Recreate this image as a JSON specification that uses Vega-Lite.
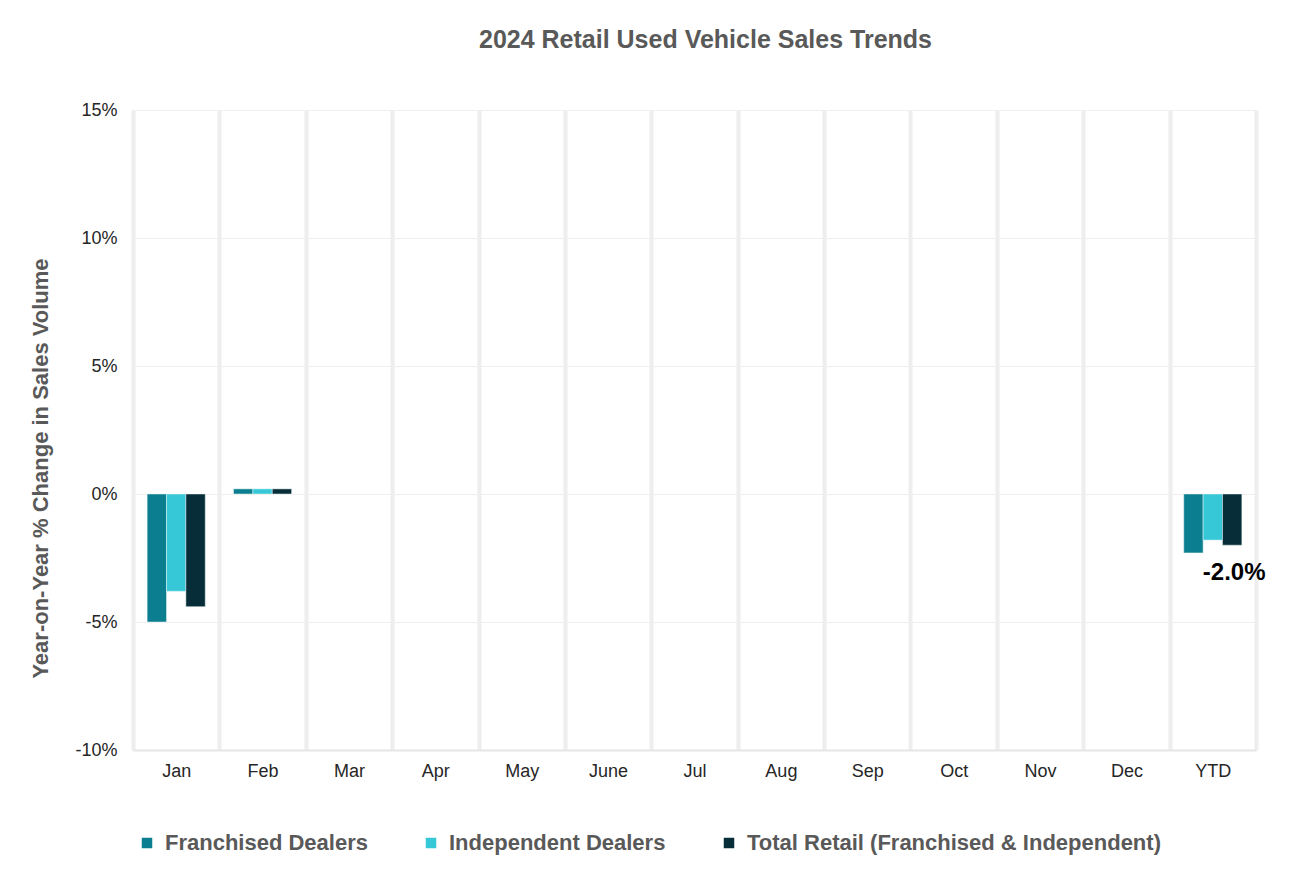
{
  "$schema": "https://vega.github.io/schema/vega-lite/v6.json",
  "autosize": "none",
  "width": 1123,
  "height": 640,
  "padding": {"left": 133, "top": 110, "right": 35, "bottom": 121},
  "background": "white",
  "title": {
    "text": "2024 Retail Used Vehicle Sales Trends",
    "font": "Liberation Sans",
    "fontSize": 25,
    "fontWeight": "bold",
    "color": "#595959",
    "anchor": "middle",
    "dx": 11,
    "offset": 48
  },
  "config": {
    "font": "Liberation Sans",
    "view": {"stroke": null}
  },
  "data": {
    "values": [
      {"month": "Jan", "series": "Franchised Dealers", "value": -5.0},
      {"month": "Jan", "series": "Independent Dealers", "value": -3.8},
      {"month": "Jan", "series": "Total Retail (Franchised & Independent)", "value": -4.4},
      {"month": "Feb", "series": "Franchised Dealers", "value": 0.2},
      {"month": "Feb", "series": "Independent Dealers", "value": 0.2},
      {"month": "Feb", "series": "Total Retail (Franchised & Independent)", "value": 0.2},
      {"month": "YTD", "series": "Franchised Dealers", "value": -2.3},
      {"month": "YTD", "series": "Independent Dealers", "value": -1.8},
      {"month": "YTD", "series": "Total Retail (Franchised & Independent)", "value": -2.0, "label": "-2.0%"}
    ]
  },
  "encoding": {
    "x": {
      "field": "month",
      "type": "nominal",
      "sort": ["Jan", "Feb", "Mar", "Apr", "May", "June", "Jul", "Aug", "Sep", "Oct", "Nov", "Dec", "YTD"],
      "scale": {
        "domain": ["Jan", "Feb", "Mar", "Apr", "May", "June", "Jul", "Aug", "Sep", "Oct", "Nov", "Dec", "YTD"],
        "paddingInner": 0,
        "paddingOuter": 0
      },
      "axis": {
        "title": null,
        "labelAngle": 0,
        "labelFont": "Liberation Sans",
        "labelFontSize": 18,
        "labelColor": "#262626",
        "labelPadding": 12,
        "ticks": false,
        "domain": true,
        "domainColor": "#E6E6E6",
        "domainWidth": 2,
        "grid": true,
        "tickBand": "extent",
        "gridColor": "#EEEEEE",
        "gridWidth": 4
      }
    },
    "xOffset": {
      "field": "series",
      "type": "nominal",
      "sort": ["Franchised Dealers", "Independent Dealers", "Total Retail (Franchised & Independent)"],
      "scale": {"paddingInner": 0, "paddingOuter": 0.73}
    }
  },
  "layer": [
    {
      "mark": {"type": "bar", "stroke": "#E8F4F6", "strokeWidth": 0.5},
      "encoding": {
        "y": {
          "field": "value",
          "type": "quantitative",
          "scale": {"domain": [-10, 15], "nice": false},
          "axis": {
            "title": "Year-on-Year % Change in Sales Volume",
            "titleFont": "Liberation Sans",
            "titleFontSize": 22,
            "titleFontWeight": "bold",
            "titleColor": "#595959",
            "titleAngle": -90,
            "titleAlign": "center",
            "titleBaseline": "middle",
            "titleX": -93,
            "titleY": 358,
            "values": [-10, -5, 0, 5, 10, 15],
            "labelExpr": "datum.value + '%'",
            "labelFont": "Liberation Sans",
            "labelFontSize": 18,
            "labelColor": "#262626",
            "labelPadding": 16,
            "ticks": false,
            "domain": false,
            "gridColor": "#EFEFEF",
            "gridWidth": 1
          }
        },
        "color": {
          "field": "series",
          "type": "nominal",
          "sort": ["Franchised Dealers", "Independent Dealers", "Total Retail (Franchised & Independent)"],
          "scale": {
            "domain": ["Franchised Dealers", "Independent Dealers", "Total Retail (Franchised & Independent)"],
            "range": ["#0B7F8F", "#36C8D7", "#062D38"]
          },
          "legend": {
            "title": null,
            "orient": "none",
            "direction": "horizontal",
            "legendX": 3,
            "legendY": 722,
            "symbolType": "square",
            "symbolSize": 110,
            "symbolStrokeWidth": 0,
            "labelFont": "Liberation Sans",
            "labelFontSize": 22,
            "labelFontWeight": "bold",
            "labelColor": "#595959",
            "labelOffset": 7,
            "labelLimit": 600,
            "columnPadding": 52
          }
        }
      }
    },
    {
      "transform": [{"filter": "isValid(datum.label)"}],
      "mark": {
        "type": "text",
        "font": "Liberation Sans",
        "fontSize": 24,
        "fontWeight": "bold",
        "color": "#000000",
        "baseline": "middle",
        "align": "center",
        "dx": 2,
        "dy": 28
      },
      "encoding": {
        "y": {"field": "value", "type": "quantitative"},
        "text": {"field": "label"}
      }
    }
  ]
}
